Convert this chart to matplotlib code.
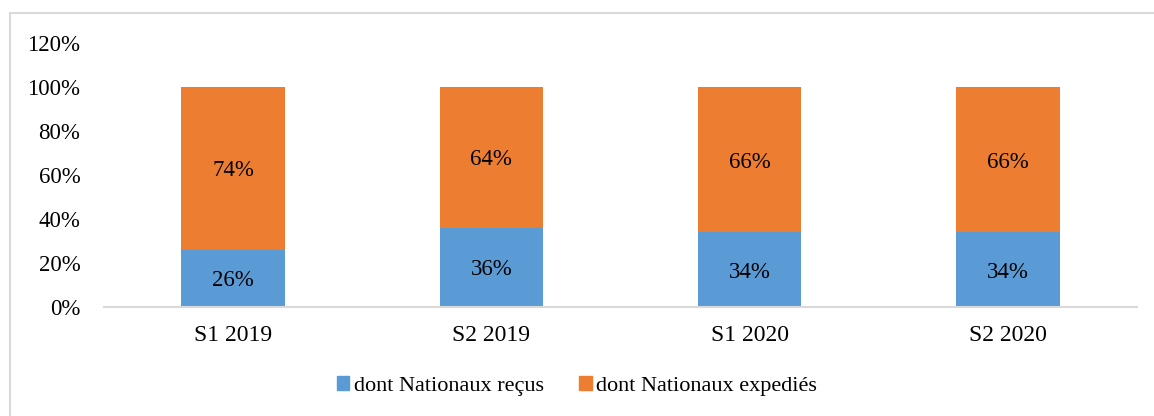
import matplotlib.pyplot as plt
from matplotlib.patches import Rectangle, Patch
import numpy as np

# Données
categories = ['S1 2019', 'S2 2019', 'S1 2020', 'S2 2020']
recus = [26, 36, 34, 34]
expedies = [74, 64, 66, 66]
labels_series = ['dont Nationaux reçus', 'dont Nationaux expediés']
col_recus = '#5B9BD5'
col_expedies = '#ED7D31'

plt.rcParams['font.family'] = ['Liberation Serif', 'DejaVu Serif']

fig = plt.figure(figsize=(11.54, 4.16), dpi=100)
ax = fig.add_axes([104 / 1154, 109 / 416, 1033 / 1154, 264 / 416])

x = np.arange(len(categories))
r = np.array(recus) / 100
e = np.array(expedies) / 100
ax.bar(x, r, width=0.4, color=col_recus)
ax.bar(x, e, width=0.4, bottom=r, color=col_expedies)

# étiquettes de données
for i in range(len(categories)):
    ax.text(x[i], r[i] / 2, f'{recus[i]}%', ha='center', va='center_baseline', fontsize=16.5)
    ax.text(x[i], r[i] + e[i] / 2, f'{expedies[i]}%', ha='center', va='center_baseline', fontsize=16.5)

ax.set_xlim(-0.5, 3.5)
ax.set_ylim(0, 1.2)
ticks = np.arange(0, 1.21, 0.2)
ax.set_yticks(ticks)
ax.set_yticklabels([f'{int(round(v * 100))}%' for v in ticks])
ax.set_xticks(x)
ax.set_xticklabels(categories)
ax.tick_params(axis='y', length=0, pad=17, labelsize=16.5)
ax.tick_params(axis='x', length=0, pad=13, labelsize=17)
for s in ['top', 'right', 'left']:
    ax.spines[s].set_visible(False)
ax.spines['bottom'].set_color('#D9D9D9')
ax.spines['bottom'].set_linewidth(1.5)

handles = [Patch(color=col_recus), Patch(color=col_expedies)]
fig.legend(handles, labels_series, loc='center', bbox_to_anchor=(0.5, 30 / 416),
           ncol=2, frameon=False, fontsize=16, handlelength=0.55, handleheight=0.55,
           handletextpad=0.2, columnspacing=1.6)

# cadre du graphique
fig.patches.append(Rectangle((10 / 1154, -0.1), 1.2, (416 - 13) / 416 + 0.1,
                             transform=fig.transFigure, fill=False,
                             edgecolor='#D9D9D9', linewidth=1.5))

plt.savefig('out.png', dpi=100)
